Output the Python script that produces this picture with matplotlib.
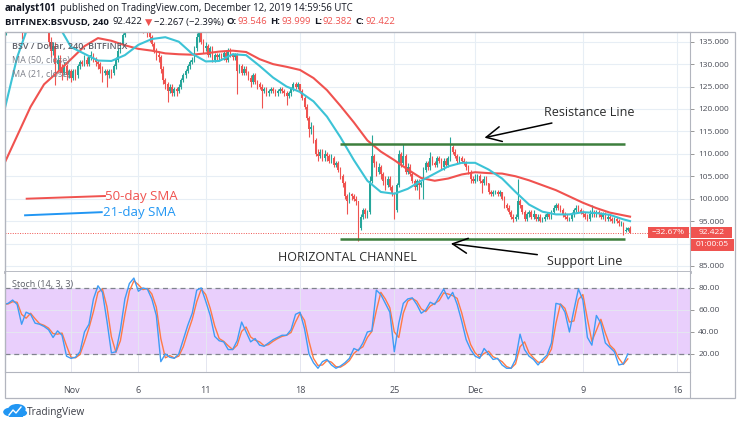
import numpy as np
import pandas as pd
import matplotlib
matplotlib.use("Agg")
import matplotlib.pyplot as plt
from matplotlib.patches import Rectangle, Circle
from matplotlib.lines import Line2D

plt.rcParams["font.family"] = ["Open Sans", "DejaVu Sans"]

W, H = 740, 426

# --- 4h candles BSV/USD (Bitfinex), Oct 27 00:00 -> Dec 12 12:00 UTC, one row per day ---
closes = [
    137, 140, 143, 141, 144, 146,          # Oct 27
    145, 143, 138, 141, 144, 146,          # Oct 28
    147, 149, 146, 144, 145, 143,          # Oct 29
    141, 139, 135, 133, 134, 130,          # Oct 30
    131, 129, 128, 129.5, 127.5, 128.5,    # Oct 31
    127, 128.5, 127.5, 129.5, 130.5, 130,  # Nov 1
    131, 130, 131.5, 132, 131, 130.5,
    130, 129, 128, 128.5, 127.5, 128.5,
    128, 129.5, 131, 133, 134.5, 136.5,
    138, 140, 141, 139.5, 142, 143,        # Nov 5
    141, 140, 138, 139, 137, 136,
    134.5, 133, 132, 131.5, 129, 126.5,
    125.5, 124, 125, 123.5, 124.5, 124,
    125, 126.5, 127.5, 128.5, 129.5, 130.5,
    131, 133.5, 136, 137, 135, 133.5,      # Nov 10
    134, 132, 133.5, 131, 132, 131.5,
    132, 131.5, 132.5, 131, 133, 132,
    131.5, 132, 128.5, 129.5, 128, 129,
    128, 127, 126, 127.5, 126, 125.5,
    125, 124, 124.5, 123.5, 124, 124.5,    # Nov 15
    124, 123.5, 124, 124.5, 124, 123.5,
    123, 123.5, 124.5, 125.5, 125, 125.5,
    124, 122.5, 120.5, 118, 115.5, 116,
    113, 110, 109.5, 110.5, 109, 110,
    109.5, 108.5, 109, 107.5, 108, 106.5,  # Nov 20
    105, 103.5, 100.5, 99.5, 101, 100.5,
    100, 99.5, 93.5, 96, 97.5, 96.5,
    97, 104, 109.5, 108, 106, 107,
    105.5, 104, 103, 104.5, 102.5, 101,
    97.5, 103, 110, 108, 109.5, 106,       # Nov 25
    107, 105.5, 104, 102.5, 104, 103,
    103.5, 106.5, 108, 107, 109, 108,
    107.5, 109, 108.5, 107, 108.5, 107.5,
    109, 111.5, 110.5, 109.5, 108.5, 109,
    108.5, 108, 107, 106, 104.5, 104,      # Nov 30
    104.5, 105, 104, 103.5, 104.5, 103.5,  # Dec 1
    101.5, 101, 101.5, 101.5, 101, 101.5,
    100, 98.5, 98, 97, 96, 95.5,
    96, 99.5, 98.5, 97, 95.5, 96.5,
    97, 96, 96.5, 95.5, 96, 95,            # Dec 5
    95.5, 96, 96.5, 96, 97, 98,
    98.5, 98, 97.5, 96.5, 96, 95.5,
    95.5, 96.5, 97.5, 98, 97.5, 97,
    96.5, 96, 95.5, 96.5, 97, 96.5,
    97, 96.5, 96, 96.5, 95.5, 96,          # Dec 10
    95.5, 95, 95.5, 95, 94.5, 94.5,
    92.8, 93.1, 93.546, 92.422,            # Dec 12
]
highs = [
    138, 141, 144, 144, 145, 147,
    147, 146, 144, 142, 145, 147,
    148, 150, 150, 147, 146, 146,
    144, 142, 140, 136, 135, 135,
    132, 132, 130, 130.5, 130, 129,
    129, 129, 129, 130, 131, 131,
    132, 131.5, 132, 133, 132.5, 131.5,
    131, 130.5, 129.5, 129, 129, 129,
    129, 130, 131.5, 133.5, 135, 137,
    139, 141, 142, 141.5, 143, 144,
    143.5, 142, 140.5, 139.5, 139.5, 137.5,
    136.5, 135, 133.5, 133, 132, 129.5,
    127, 126, 125.5, 125.5, 125, 125,
    125.5, 127, 128, 129, 130, 131,
    131.5, 134, 137, 138, 137.5, 135.5,
    135, 134.5, 134, 134, 132.5, 132.5,
    132.5, 132.5, 133, 133, 133.5, 133.5,
    132.5, 132.5, 132.5, 130, 130, 129.5,
    129.5, 128.5, 127.5, 128, 128, 126.5,
    126, 125.5, 125, 125, 124.5, 125,
    125, 124.5, 124.5, 125, 125, 124.5,
    124, 124, 125, 126, 126, 126,
    125.5, 124.5, 123, 121, 118.5, 117,
    116.5, 113.5, 111, 111, 111, 110.8,
    110.5, 110, 110, 109.5, 108.5, 108.5,
    107, 105.5, 104, 101, 101.5, 101.3,
    101, 100.5, 99.5, 96.5, 98, 98,
    97.5, 105, 114.1, 110, 108.5, 108,
    107.5, 106, 105, 105, 105, 103,
    101.5, 103.5, 110.8, 110.5, 112.3, 110,
    108, 107.8, 106, 104.5, 104.5, 104.5,
    104, 107, 108.5, 108.5, 110.3, 109.5,
    108.5, 109.5, 109.5, 109, 109, 109,
    109.5, 113.7, 112, 111, 110, 109.5,
    109.5, 109, 108.5, 107.5, 106.5, 105,
    105.5, 105.5, 105.5, 104.5, 105, 105,
    103.5, 102, 102, 102, 102, 102,
    101.5, 100.5, 99, 98.5, 97.5, 96.5,
    96.5, 104.5, 100, 98.5, 97.5, 97,
    97.5, 97.5, 97.5, 96.5, 96.5, 96.5,
    96, 96.5, 97, 97, 97.5, 98.5,
    99, 99, 98.5, 98, 97, 96.5,
    96, 97, 98, 98.5, 98.5, 98,
    97.5, 97, 96.5, 97.5, 98.5, 97.5,
    97.5, 97.5, 97, 97, 97, 96.5,
    96.5, 96, 96, 96, 95.5, 95,
    94.7, 93.6, 93.8, 93.999,
]
lows = [
    136, 136.5, 139, 140, 140.5, 143.5,
    144, 142, 135.5, 137, 140, 143,
    145, 146, 145, 143, 143, 142,
    140, 138, 134, 131.5, 132, 125.3,
    128.5, 128, 126.5, 127.5, 126.5, 127,
    126, 126.5, 126.5, 127, 129, 129.5,
    129.5, 129.5, 129.5, 131, 130.5, 129.5,
    129, 128, 126, 127.5, 125, 127,
    127, 127.5, 129, 130.5, 132.5, 134,
    136, 137.5, 139.5, 138, 139, 141.5,
    140, 139, 137, 137.5, 136, 135,
    134, 132.5, 131, 130.5, 128, 125.5,
    124.5, 121.5, 123.5, 123, 123, 123,
    123.5, 124.5, 126, 127, 128, 129,
    130, 130.5, 133, 135, 134.5, 132.5,
    133, 131.5, 131.5, 130.5, 130.5, 131,
    131, 131, 131, 130.5, 130.5, 131.5,
    131, 131, 123.3, 128, 127.5, 127.5,
    127.5, 126.5, 125, 125.5, 125.5, 124.5,
    124.5, 120.2, 123.5, 123, 123, 123.5,
    123.5, 123, 123, 123.5, 123.5, 123,
    120.8, 122.5, 123, 124, 124.5, 124.5,
    123.5, 122, 120, 117.5, 113.7, 114.5,
    112.5, 109.5, 108.5, 109, 108.5, 108.5,
    108.5, 108, 108, 107, 107, 106,
    104.5, 102.5, 100, 96.7, 99, 99.6,
    99.5, 98.5, 90.6, 93, 95.5, 95.8,
    95.8, 96.5, 103.5, 107, 105, 105.5,
    104.5, 103, 102, 102.5, 102, 100.5,
    95.5, 97, 102.5, 107, 107.5, 105.5,
    105.5, 105, 103.5, 102, 102, 100,
    102.5, 100, 106, 106.5, 106.5, 107.5,
    107, 107, 108, 106.3, 106.5, 107,
    107, 108.5, 110, 109, 108, 108,
    108, 107.5, 106.5, 105.5, 103.5, 103.4,
    103.5, 104, 103.5, 101.3, 103, 103,
    101.1, 100.5, 100.5, 101, 100.5, 100.5,
    99.6, 98, 97.5, 96.5, 95.5, 94.8,
    95, 95.5, 98, 96.5, 95, 95,
    96, 95.5, 95.5, 95, 95, 94.7,
    94.7, 95, 95.5, 95.5, 95.5, 96.5,
    97.5, 97.5, 97, 96, 95.5, 95,
    95, 95, 96, 97, 97, 96.5,
    96, 95.5, 95, 95, 96, 96,
    96, 96, 95.5, 95.5, 95, 95,
    95, 94.5, 94.5, 94.5, 94, 94,
    92, 92.5, 92.8, 92.382,
]

# moving averages read once a day (00:00), Oct 27 -> Dec 12, plus the last bar
ma50 = [107.5, 114, 120.5, 125.5, 128.2, 131.1, 134, 135.8, 135.2, 134.2,
        133.4, 133, 132.4, 132.2, 132.1, 132.4, 132.8, 133, 132.7, 131.1,
        130, 129.4, 128.7, 126.9, 124.2, 120.7, 117, 113, 110.5, 108.6,
        106.5, 104.6, 104, 104.5, 105.4, 105.9, 105.7, 105.6, 105, 104.1,
        103, 101.9, 100.5, 99.1, 97.9, 96.9, 96.3, 96.0]
ma21 = [119, 131.5, 140, 141, 139, 133.8, 132.3, 130.8, 130.7, 132,
        134.3, 135.6, 136, 135, 132.3, 130.6, 130.7, 132.2, 132, 129.6,
        127, 125, 123.8, 121.7, 118.3, 113.7, 108.6, 104, 101.5, 101.1,
        102.2, 104, 105.6, 107.2, 108, 108, 106.5, 104.5, 101.5, 98.7,
        97.1, 96.5, 96.5, 97, 96.8, 96.4, 95.4, 95]

# Stoch %K, read every 8h from Oct 27 00:00
stoch_k = [65, 66, 69, 65, 47, 58, 56, 48, 47, 45, 42, 35, 41, 37, 18,
           16, 17, 22, 40, 47, 70, 82, 76, 50, 21, 22, 42, 70, 84, 89,
           77, 80, 79, 70, 55, 13, 20, 17, 16, 20, 33, 46, 57, 78, 80,
           68, 55, 36, 32, 31, 24, 24, 32, 49, 40, 31, 34, 28, 27, 30,
           33, 35, 37, 37, 42, 56, 58, 43, 20, 12, 7, 13, 15, 10, 7,
           9, 12, 16, 25, 23, 30, 40, 41, 78, 74, 66, 58, 22, 48, 66,
           70, 71, 65, 57, 60, 67, 65, 72, 79, 70, 76, 65, 50, 33, 24,
           18, 16, 25, 20, 15, 16, 10, 7, 7, 15, 38, 24, 18, 15, 10,
           15, 19, 30, 66, 65, 58, 40, 60, 79, 69, 35, 28, 55, 48, 30,
           26, 22, 10, 11, 20]

date_ticks = [0, 5, 10, 17, 24, 30, 38, 45]          # days from Nov 1
date_labels = ["Nov", "6", "11", "18", "25", "Dec", "9", "16"]
price_ticks = [85, 90, 95, 100, 105, 110, 115, 120, 125, 130, 135]
stoch_ticks = [20, 40, 60, 80]

resistance = 112.3
support = 91.0
last_price = 92.422

UP, DOWN = "#26a69a", "#ef5350"
GRID = "#e7eef5"
FRAME = "#b2b5be"
TXT = "#4a4d57"

fig = plt.figure(figsize=(W / 100, H / 100), dpi=100)
fig.patch.set_facecolor("white")


def fbox(x0, y0, x1, y1):
    # pixel box (top-left origin) -> figure fraction rect
    return [x0 / W, 1 - y1 / H, (x1 - x0) / W, (y1 - y0) / H]


ax = fig.add_axes(fbox(5, 32, 690, 272))
axs = fig.add_axes(fbox(5, 272, 690, 372), sharex=ax)

# --- candles ---
c = np.array(closes, dtype=float)
o = np.r_[c[0], c[:-1]]
hi = np.array(highs, dtype=float)
lo = np.array(lows, dtype=float)
t = -5 + np.arange(len(c)) / 6.0
col = np.where(c >= o, UP, DOWN)
body_lo = np.minimum(o, c)
body_h = np.maximum(np.abs(c - o), 0.15)
ax.vlines(t, lo, hi, colors=col, lw=0.8, zorder=3)
ax.bar(t, body_h, bottom=body_lo, width=0.12, color=col, lw=0, zorder=4)

ma_t = np.r_[np.arange(-5, 42), 41.5]
ax.plot(ma_t, ma50, color="#f0524f", lw=1.5, zorder=5)
ax.plot(ma_t, ma21, color="#3cc3d6", lw=1.5, zorder=5)

ax.axhline(last_price, color="#ef5350", lw=0.7, ls=(0, (1, 1.5)), zorder=2)

ax.hlines([resistance, support], 19.97, 41.13, color="#3d7f3d", lw=1.8, zorder=6)

ax.set_xlim(-4.9, 45.95)
ax.set_ylim(83.66, 137.16)
ax.set_yticks(price_ticks)
# the 90 label sits under the countdown box on the scale
ax.set_yticklabels(["" if v == 90 else f"{v:.3f}" for v in price_ticks])
ax.yaxis.tick_right()
ax.tick_params(axis="y", length=3, width=0.6, color="#888", pad=3, labelsize=6, labelcolor=TXT)
ax.tick_params(axis="x", length=0, labelbottom=False)
ax.set_xticks(date_ticks)
ax.grid(True, color=GRID, lw=0.8, zorder=0)
for s in ax.spines.values():
    s.set_color(FRAME)
    s.set_linewidth(0.8)
ax.spines["bottom"].set_linewidth(2.0)

# SMA legend drawn on the chart
ax.plot([-3.29, 2.52], [100.0, 100.6], color="#f0524f", lw=1.4, zorder=7)
ax.text(2.52, 100.6, "50-day SMA", color="#f0524f", fontsize=9.5, va="center", ha="left", zorder=7)
ax.plot([-3.41, 2.28], [96.3, 97.0], color="#2196f3", lw=1.4, zorder=7)
ax.text(2.35, 96.9, "21-day SMA", color="#2196f3", fontsize=9.5, va="center", ha="left", zorder=7)

# annotations
ax.text(38.46, 119.3, "Resistance Line", fontsize=9, color="#2b2b2b", ha="center", va="center", zorder=7)
ax.text(38.16, 85.96, "Support Line", fontsize=9, color="#2b2b2b", ha="center", va="center", zorder=7)
ax.text(20.53, 86.8, "HORIZONTAL CHANNEL", fontsize=9, color="#2b2b2b", ha="center", va="center", zorder=7)
arrow = dict(arrowstyle="->,head_length=0.9,head_width=0.45", color="black", lw=1.1, mutation_scale=12)
ax.annotate("", xy=(30.49, 113.47), xytext=(35.9, 117.0), arrowprops=arrow, zorder=7)
ax.annotate("", xy=(27.99, 90.06), xytext=(34.82, 87.45), arrowprops=arrow, zorder=7)

# --- stochastic ---
k = pd.Series(stoch_k, dtype=float)
d = k.rolling(2, min_periods=1).mean()
tk = -5 + np.arange(len(k)) / 3.0
axs.axhspan(20, 80, color="#e9cffc", lw=0, zorder=0)
axs.axhline(80, color="#80838e", lw=0.9, ls=(0, (4, 3)), zorder=1)
axs.axhline(20, color="#80838e", lw=0.9, ls=(0, (4, 3)), zorder=1)
axs.plot(tk, d, color="#ff7a45", lw=1.0, zorder=3)
axs.plot(tk, k, color="#3f9cf5", lw=1.0, zorder=4)
axs.set_ylim(3.6, 94.5)
axs.set_yticks(stoch_ticks)
axs.set_yticklabels([f"{v:.2f}" for v in stoch_ticks])
axs.yaxis.tick_right()
axs.tick_params(axis="y", length=3, width=0.6, color="#888", pad=3, labelsize=6, labelcolor=TXT)
axs.set_xticks(date_ticks)
axs.set_xticklabels(date_labels)
axs.tick_params(axis="x", length=0, pad=10, labelsize=6.5, labelcolor=TXT)
axs.grid(True, color="#e4e6f0", lw=0.7, zorder=0)
axs.set_axisbelow(True)
for s in axs.spines.values():
    s.set_color(FRAME)
    s.set_linewidth(0.8)
axs.spines["top"].set_visible(False)

# outer frame and axis separators
fig.patches.append(Rectangle((5 / W, 1 - 398 / H), 730 / W, 366 / H, transform=fig.transFigure,
                             fill=False, ec=FRAME, lw=0.9))
fig.lines.append(Line2D([690 / W, 690 / W], [1 - 398 / H, 1 - 372 / H], transform=fig.transFigure,
                        color=FRAME, lw=0.8))

# labels in the panes
fig.text(12 / W, 1 - 47 / H, "BSV / Dollar, 240, BITFINEX", fontsize=6.5, color="#5d6069", fontweight="semibold", va="center")
fig.text(12 / W, 1 - 61 / H, "MA (50, close)", fontsize=6.5, color="#7d808a", va="center")
fig.text(12 / W, 1 - 75 / H, "MA (21, close)", fontsize=6.5, color="#7d808a", va="center")
fig.text(12 / W, 1 - 285 / H, "Stoch (14, 3, 3)", fontsize=6.5, color="#5d6069", va="center")

# last price markers on the scale
fig.canvas.draw()
py = H - ax.transData.transform((0, last_price))[1]
for x0, x1, y0, y1, s in [(648, 689, py - 5.5, py + 5.5, "\u221232.67%"),
                          (691, 732, py - 5.5, py + 5.5, "92.422"),
                          (691, 734, py + 6.5, py + 18, "01:00:05")]:
    fig.patches.append(Rectangle((x0 / W, 1 - y1 / H), (x1 - x0) / W, (y1 - y0) / H,
                                 transform=fig.transFigure, color="#ef5350", lw=0, zorder=10))
    fig.text((x0 + x1) / 2 / W, 1 - (y0 + y1) / 2 / H, s, color="white", fontsize=6,
             ha="center", va="center", zorder=11)


def runs(items, x, y, size):
    r = fig.canvas.get_renderer()
    for s, color, weight, gap in items:
        tx = fig.text(x / W, 1 - y / H, s, fontsize=size, color=color, fontweight=weight, va="center", ha="left")
        x += tx.get_window_extent(r).width + gap


INK = "#131722"
runs([("analyst101", INK, "bold", 3),
      ("published on TradingView.com, December 12, 2019 14:59:56 UTC", INK, "normal", 0)], 5, 9, 6.9)
runs([("BITFINEX:BSVUSD, 240", INK, "bold", 4),
      ("92.422", INK, "normal", 2),
      ("\u25bc", "#ef5350", "normal", 2),
      ("\u22122.267 (\u22122.39%)", INK, "normal", 3),
      ("O:", INK, "bold", 1), ("93.546", "#ef5350", "normal", 3),
      ("H:", INK, "bold", 1), ("93.999", "#ef5350", "normal", 3),
      ("L:", INK, "bold", 1), ("92.382", "#ef5350", "normal", 3),
      ("C:", INK, "bold", 1), ("92.422", "#ef5350", "normal", 0)], 5, 22, 6.8)

# TradingView logo
for cx, cy, r in [(11, 412, 4.5), (17, 409, 5), (21, 413, 3.5)]:
    fig.patches.append(Circle((cx / W, 1 - cy / H), r / H, transform=fig.transFigure, color="#2196f3", lw=0))
fig.patches.append(Rectangle((9 / W, 1 - 417 / H), 14 / W, 5 / H, transform=fig.transFigure, color="#2196f3", lw=0))
fig.lines.append(Line2D([9 / W, 13 / W, 16 / W, 21 / W], [1 - 415 / H, 1 - 410 / H, 1 - 413 / H, 1 - 407 / H],
                        transform=fig.transFigure, color="white", lw=1.0))
fig.text(27 / W, 1 - 412 / H, "TradingView", fontsize=7.3, color="#3a3d46", va="center")

fig.savefig("out.png", dpi=100)
